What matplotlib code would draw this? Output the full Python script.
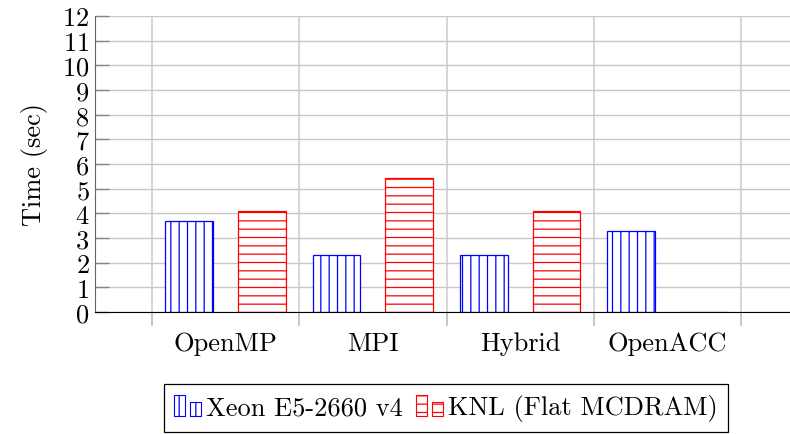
import matplotlib
matplotlib.use("Agg")
import numpy as np
import matplotlib.pyplot as plt
from matplotlib.patches import Rectangle
from matplotlib.legend_handler import HandlerBase

# =========================
# 数据
# =========================

categories = ["OpenMP", "MPI", "Hybrid", "OpenACC"]
xeon_times = [3.7, 2.3, 2.3, 3.3]
knl_times = [4.1, 5.45, 4.1, 0.0]
series_names = ["Xeon E5-2660 v4", "KNL (Flat MCDRAM)"]
y_ticks = list(range(0, 13))

FS = 19


class TwoBarHandler(HandlerBase):
    # pgfplots 风格的图例：两根小柱子
    def create_artists(self, legend, orig_handle, xdescent, ydescent,
                       width, height, fontsize, trans):
        w = width * 0.36
        r1 = Rectangle((-xdescent, -ydescent - 0.1 * height), w, height * 1.15,
                       facecolor="white", edgecolor=orig_handle.get_edgecolor(),
                       hatch=orig_handle.get_hatch(), lw=0.8, transform=trans)
        r2 = Rectangle((-xdescent + width * 0.55, -ydescent - 0.1 * height), w, height * 0.8,
                       facecolor="white", edgecolor=orig_handle.get_edgecolor(),
                       hatch=orig_handle.get_hatch(), lw=0.8, transform=trans)
        return [r1, r2]


def main():
    plt.rcParams["font.family"] = ["cmr10", "DejaVu Serif"]
    plt.rcParams["mathtext.fontset"] = "cm"
    plt.rcParams["axes.formatter.use_mathtext"] = True
    plt.rcParams["hatch.linewidth"] = 0.9

    fig = plt.figure(figsize=(7.9, 4.35), dpi=100)
    ax = fig.add_axes([95 / 790, 1 - 313 / 435, 703 / 790, 296 / 435])

    x = np.arange(len(categories))
    offset = 0.248
    width = 0.326

    b1 = ax.bar(x - offset, xeon_times, width, facecolor="white",
                edgecolor="blue", hatch="||", linewidth=0.9, zorder=3,
                label=series_names[0])
    b2 = ax.bar(x + offset, knl_times, width, facecolor="white",
                edgecolor="red", hatch="--", linewidth=0.9, zorder=3,
                label=series_names[1])

    ax.set_xlim(-0.89, 3.89)
    ax.set_ylim(0, 12)
    ax.set_yticks(y_ticks)

    ax.set_xticks(x)
    ax.set_xticklabels(categories)
    ax.set_xticks(np.arange(-0.5, 4.0, 1.0), minor=True)

    ax.tick_params(axis="x", which="major", length=0, pad=14, labelsize=FS)
    ax.tick_params(axis="x", which="minor", length=10, direction="out",
                   color="#bbbbbb", width=1.2)
    ax.tick_params(axis="y", length=10, direction="in", color="#888888",
                   width=1.0, labelsize=FS, pad=4)

    ax.grid(True, which="minor", axis="x", color="#d0d0d0", lw=1.2, zorder=0)
    ax.grid(True, which="major", axis="y", color="#c8c8c8", lw=1.0, zorder=0)
    ax.grid(False, which="major", axis="x")

    ax.spines["top"].set_visible(False)
    ax.spines["right"].set_visible(False)
    ax.spines["left"].set_color("#666666")
    ax.spines["bottom"].set_color("black")
    ax.spines["left"].set_zorder(4)
    ax.spines["bottom"].set_zorder(4)

    ax.set_ylabel("Time (sec)", fontsize=FS, labelpad=10)

    leg = fig.legend(
        handles=[b1.patches[0], b2.patches[0]],
        labels=series_names,
        handler_map={Rectangle: TwoBarHandler()},
        loc="lower center",
        bbox_to_anchor=(446 / 790, 2 / 435),
        ncol=2,
        fontsize=FS,
        frameon=True,
        fancybox=False,
        edgecolor="black",
        framealpha=1,
        handlelength=1.1,
        handletextpad=0.1,
        columnspacing=0.5,
        borderpad=0.4,
        borderaxespad=0,
    )
    leg.get_frame().set_linewidth(0.9)

    fig.savefig("out.png", dpi=100)
    plt.close(fig)


if __name__ == "__main__":
    main()
